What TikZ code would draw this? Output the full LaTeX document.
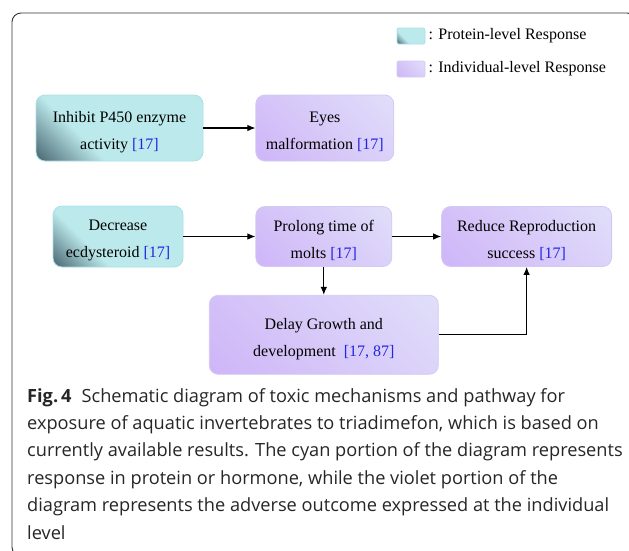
\documentclass[tikz,border=0pt]{standalone}
\usepackage{fontspec}
\setmainfont{Liberation Serif}
\newfontfamily\capfont{Open Sans}
\usepackage{tikz}
\usetikzlibrary{shapes,arrows.meta}
\usetikzlibrary{positioning}
\definecolor{cyanlight}{HTML}{BCEAEC}
\definecolor{cyandark}{HTML}{44606C}
\definecolor{cyanedge}{HTML}{A9E0E6}
\definecolor{violight}{HTML}{E0DEF9}
\definecolor{viodark}{HTML}{CFB6F8}
\definecolor{vioedge}{HTML}{D2CAF5}
\definecolor{refblue}{HTML}{2424E4}
\definecolor{framegray}{HTML}{333333}
\pgfdeclareverticalshading{cyanshade}{100bp}{color(0bp)=(cyandark); color(14bp)=(cyandark); color(36bp)=(cyanlight); color(100bp)=(cyanlight)}
\pgfdeclareverticalshading{vioshade}{100bp}{color(0bp)=(viodark); color(16bp)=(viodark); color(84bp)=(violight); color(100bp)=(violight)}
\tikzset{auto,>={Latex[length=8pt,width=6.5pt]}, node distance=1cm, font=\fontsize{16}{27}\selectfont}
\tikzstyle{pbox} = [draw=cyanedge, line width=0.8pt, rounded corners=9pt, shade, shading=cyanshade, shading angle=-45, align=center, inner sep=0pt, execute at begin node={\rule{0pt}{46pt}}]
\tikzstyle{ibox} = [draw=vioedge, line width=0.8pt, rounded corners=9pt, shade, shading=vioshade, shading angle=-45, align=center, inner sep=0pt, execute at begin node={\rule{0pt}{46pt}}]
\tikzstyle{pkey} = [draw=cyanedge, line width=0.8pt, rounded corners=2pt, shade, shading=cyanshade, shading angle=-45, minimum width=28pt, minimum height=16pt, inner sep=0pt]
\tikzstyle{ikey} = [draw=vioedge, line width=0.8pt, rounded corners=2pt, shade, shading=vioshade, shading angle=-45, minimum width=28pt, minimum height=16pt, inner sep=0pt]
\tikzstyle{keytext} = [inner sep=0pt, anchor=west]
\tikzstyle{link} = [->, line width=1.1pt]
\newcommand{\refs}[1]{{\color{refblue}[#1]}}

\begin{document}
\begin{tikzpicture}[x=1pt, y=-1pt]
		\useasboundingbox (0,0) rectangle (629,550);
		\clip (0,0) rectangle (629,550);
		\draw [framegray, line width=0.9pt, rounded corners=9pt] (12,13) rectangle (636,556);

		% legend
		\node [pkey] (key_p) at (411,36) {};
		\node [keytext, right=3pt of key_p] (keytext_p) {: Protein-level Response};
		\node [ikey] (key_i) at (411,69) {};
		\node [keytext, right=3pt of key_i] (keytext_i) {: Individual-level Response};

		% first row
		\node [pbox, minimum width=167pt, minimum height=66pt] (inhibit) at (119.5,128) {Inhibit P450 enzyme\\activity \refs{17}};
		\node [ibox, minimum width=138pt, minimum height=66pt, right=52pt of inhibit] (eyes) {Eyes\\malformation \refs{17}};

		% second row
		\node [pbox, minimum width=130pt, minimum height=61pt] (decrease) at (118,236.5) {Decrease\\ecdysteroid \refs{17}};
		\node [ibox, minimum width=136pt, minimum height=60pt, right=72pt of decrease] (prolong) {Prolong time of\\molts \refs{17}};
		\node [ibox, minimum width=170pt, minimum height=60pt, right=49pt of prolong] (reduce) {Reduce Reproduction\\success \refs{17}};
		\node [ibox, minimum width=229pt, minimum height=79pt, below=28pt of prolong] (delay) {Delay Growth and\\development\enspace\refs{17, 87}};

		\draw [link] (inhibit) -- (eyes);
		\draw [link] (decrease) -- (prolong);
		\draw [link] (prolong) -- (reduce);
		\draw [link] (prolong) -- (delay);
		\draw [link] (delay) -| (reduce);

		% caption
		\node [anchor=north west, align=left, inner sep=0pt, text=black!85, font=\capfont\fontsize{18.2}{27.4}\selectfont] (caption) at (27,388) {\textbf{Fig.\,4}\hspace{0.55em}Schematic diagram of toxic mechanisms and pathway for\\exposure of aquatic invertebrates to triadimefon, which is based on\\currently available results. The cyan portion of the diagram represents\\response in protein or hormone, while the violet portion of the\\diagram represents the adverse outcome expressed at the individual\\level};
	\end{tikzpicture}
\end{document}
